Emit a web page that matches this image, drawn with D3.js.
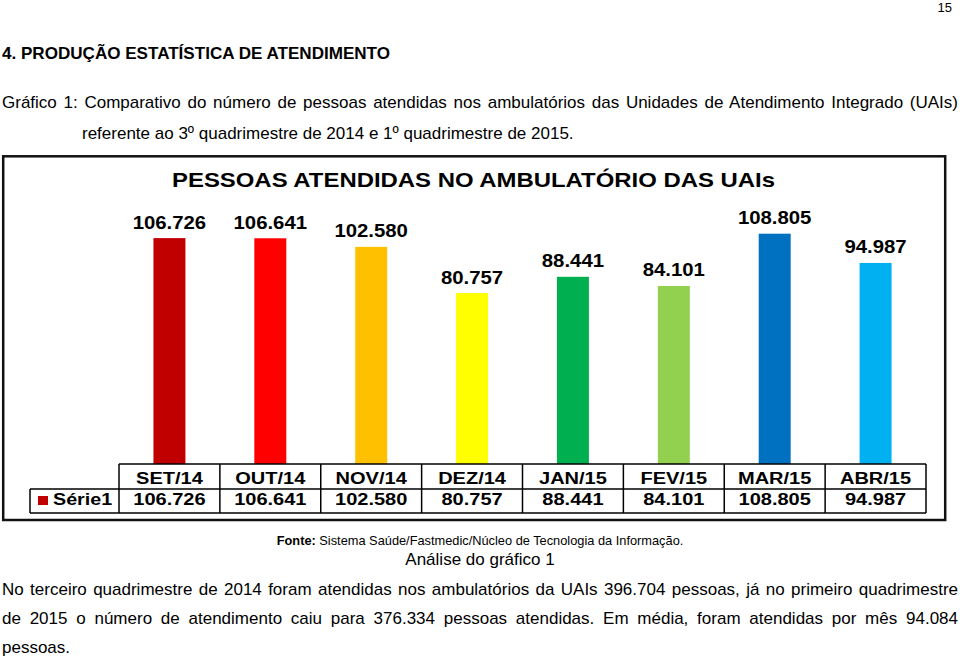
<!DOCTYPE html>
<html>
<head>
<meta charset="utf-8">
<script src="https://cdn.jsdelivr.net/npm/d3@7"></script>
<style>
  html, body { margin: 0; padding: 0; background: #fff; }
  svg { display: block; }
  text { font-family: "Liberation Sans", Arial, sans-serif; fill: #000; }
</style>
</head>
<body>
<script>
// ---------- data ----------
const categories = ["SET/14", "OUT/14", "NOV/14", "DEZ/14", "JAN/15", "FEV/15", "MAR/15", "ABR/15"];
const values = [106726, 106641, 102580, 80757, 88441, 84101, 108805, 94987];
const barColors = ["#C00000", "#FF0000", "#FFC000", "#FFFF00", "#00B050", "#92D050", "#0070C0", "#00B0F0"];
const seriesName = "Série1";
const chartTitle = "PESSOAS  ATENDIDAS  NO  AMBULATÓRIO  DAS  UAIs";
const pageNumber = "15";
const heading = "4. PRODUÇÃO ESTATÍSTICA DE ATENDIMENTO";
const captionLine1 = "Gráfico 1: Comparativo do número de pessoas atendidas nos ambulatórios das Unidades de Atendimento Integrado (UAIs)";
const captionLine2 = "referente ao 3º quadrimestre de 2014 e 1º quadrimestre de 2015.";
const sourceBold = "Fonte:";
const sourceText = " Sistema Saúde/Fastmedic/Núcleo de Tecnologia da Informação.";
const analysisTitle = "Análise do gráfico 1";
const paragraphLines = [
  "No terceiro quadrimestre de 2014 foram atendidas nos ambulatórios da UAIs 396.704 pessoas, já no primeiro quadrimestre",
  "de 2015 o número de atendimento caiu para 376.334 pessoas atendidas. Em média, foram atendidas por mês 94.084",
  "pessoas."
];

// ---------- helpers ----------
const ptBR = d3.formatLocale({decimal: ",", thousands: ".", grouping: [3], currency: ["R$", ""]});
const fmt = ptBR.format(",d");

function stretch(sel, k) {
  sel.each(function () {
    const w = this.getComputedTextLength();
    d3.select(this).attr("textLength", w * k).attr("lengthAdjust", "spacingAndGlyphs");
  });
}
function fitTo(sel, width) {
  sel.attr("textLength", width).attr("lengthAdjust", "spacingAndGlyphs");
}
function justify(sel, width) {
  const node = sel.node();
  const w = node.getComputedTextLength();
  const n = (node.textContent.match(/ /g) || []).length;
  if (n > 0 && width > w) sel.attr("word-spacing", (width - w) / n);
  else if (width < w) fitTo(sel, width);
}

const W = 960, H = 658;
const svg = d3.select("body").append("svg").attr("width", W).attr("height", H);
svg.append("rect").attr("width", W).attr("height", H).attr("fill", "#fff");

// ---------- page text ----------
svg.append("text").attr("x", 952).attr("y", 12).attr("text-anchor", "end")
  .style("font-size", "13px").text(pageNumber);

const h = svg.append("text").attr("x", 2).attr("y", 59)
  .style("font-size", "16.5px").style("font-weight", "bold").text(heading);
fitTo(h, 388);

const c1 = svg.append("text").attr("x", 2).attr("y", 108).style("font-size", "17px").text(captionLine1);
justify(c1, 956);
svg.append("text").attr("x", 82).attr("y", 139).style("font-size", "17px").text(captionLine2);

// ---------- chart box ----------
svg.append("rect").attr("x", 3.2).attr("y", 156.3).attr("width", 942).attr("height", 363.7)
  .attr("fill", "#fff").attr("stroke", "#111").attr("stroke-width", 2.5);

const title = svg.append("text").attr("x", 473.5).attr("y", 187).attr("text-anchor", "middle")
  .style("font-size", "20.5px").style("font-weight", "bold").text(chartTitle);
fitTo(title, 603);

// scales
const tableLeft = 119, tableRight = 926;
const xCol = d3.scaleBand().domain(categories).range([tableLeft, tableRight]).padding(0);
const x = d3.scaleBand().domain(categories).range([tableLeft, tableRight])
  .paddingInner(0.683).paddingOuter(0.3415);
const y = d3.scaleLinear().domain([0, 120000]).range([464, 210]);

const data = categories.map((c, i) => ({cat: c, value: values[i], color: barColors[i]}));

svg.append("g").selectAll("rect").data(data).join("rect")
  .attr("x", d => x(d.cat)).attr("y", d => y(d.value))
  .attr("width", x.bandwidth()).attr("height", d => y(0) - y(d.value))
  .attr("fill", d => d.color);

const labels = svg.append("g").selectAll("text").data(data).join("text")
  .attr("x", d => x(d.cat) + x.bandwidth() / 2).attr("y", d => y(d.value) - 9.5)
  .attr("text-anchor", "middle").style("font-size", "18px").style("font-weight", "bold")
  .text(d => fmt(d.value));
stretch(labels, 1.13);

// ---------- data table ----------
const rowTop = 464, rowMid = 489, rowBot = 513, legendLeft = 30;
const tg = svg.append("g").attr("stroke", "#000").attr("stroke-width", 1.5).attr("fill", "none");
tg.append("line").attr("x1", tableLeft).attr("x2", tableRight).attr("y1", rowTop).attr("y2", rowTop);
tg.append("line").attr("x1", legendLeft).attr("x2", tableRight).attr("y1", rowMid).attr("y2", rowMid);
tg.append("line").attr("x1", legendLeft).attr("x2", tableRight).attr("y1", rowBot).attr("y2", rowBot);
tg.append("line").attr("x1", legendLeft).attr("x2", legendLeft).attr("y1", rowMid).attr("y2", rowBot);
tg.selectAll("line.v").data(categories).join("line").attr("class", "v")
  .attr("x1", d => xCol(d)).attr("x2", d => xCol(d)).attr("y1", rowTop).attr("y2", rowBot);
tg.append("line").attr("x1", tableRight).attr("x2", tableRight).attr("y1", rowTop).attr("y2", rowBot);

const hdr = svg.append("g").selectAll("text").data(categories).join("text")
  .attr("x", d => xCol(d) + xCol.bandwidth() / 2).attr("y", 483.5)
  .attr("text-anchor", "middle").style("font-size", "16px").style("font-weight", "bold")
  .text(d => d);
stretch(hdr, 1.25);

const vals = svg.append("g").selectAll("text").data(data).join("text")
  .attr("x", d => xCol(d.cat) + xCol.bandwidth() / 2).attr("y", 505)
  .attr("text-anchor", "middle").style("font-size", "16px").style("font-weight", "bold")
  .text(d => fmt(d.value));
stretch(vals, 1.25);

svg.append("rect").attr("x", 38).attr("y", 496).attr("width", 10).attr("height", 9).attr("fill", barColors[0]);
const leg = svg.append("text").attr("x", 53).attr("y", 505)
  .style("font-size", "16px").style("font-weight", "bold").text(seriesName);
stretch(leg, 1.23);

// ---------- source and analysis ----------
const src = svg.append("text").attr("x", 480).attr("y", 545).attr("text-anchor", "middle").style("font-size", "12.8px");
src.append("tspan").style("font-weight", "bold").text(sourceBold);
src.append("tspan").text(sourceText);

svg.append("text").attr("x", 480).attr("y", 565).attr("text-anchor", "middle")
  .style("font-size", "17px").text(analysisTitle);

const paraY = [595, 624, 653];
paragraphLines.forEach((line, i) => {
  const t = svg.append("text").attr("x", 2).attr("y", paraY[i]).style("font-size", "17px").text(line);
  if (i < paragraphLines.length - 1) justify(t, 956);
});
</script>
</body>
</html>
